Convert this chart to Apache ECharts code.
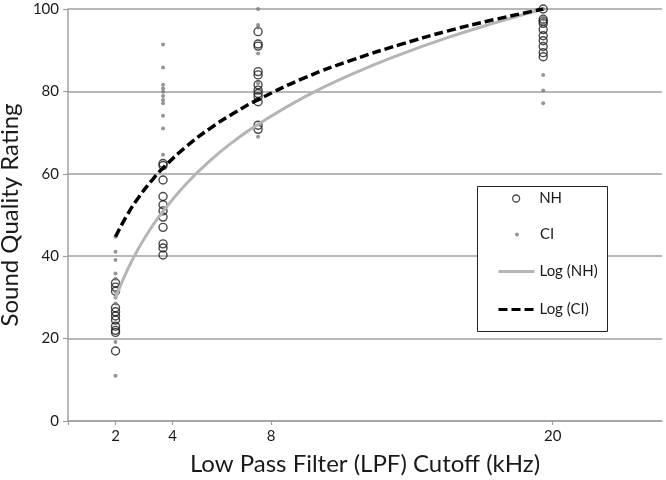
<!DOCTYPE html>
<html><head><meta charset="utf-8">
<script src="https://cdn.jsdelivr.net/npm/echarts@6/dist/echarts.min.js"></script>
<style>html,body{margin:0;padding:0;background:#fff}#c{width:666px;height:480px}</style>
</head><body><div id="c"></div>
<script>
// LPF cutoff levels (kHz)
const xLevels = [2, 4, 8, 20];
const tickLabels = ['2', '4', '8', '20'];
const tickValues = [2, 4.4, 8.55, 20.4];

// NH listeners ratings per level
const nh2 = [33.5, 32.5, 31.5, 27.5, 26.5, 25.5, 24.5, 23, 22, 21.5, 17];
const nh4 = [62.5, 62, 58.5, 54.5, 52.5, 51, 49.5, 47, 43, 42, 40.3];
const nh8 = [94.5, 91.5, 91, 84.8, 84, 81.6, 80.3, 79.5, 78.7, 77.5, 71.8, 70.8];
const nh20 = [100, 97.5, 97, 96.5, 95, 93.5, 92.3, 90.9, 89.4, 88.4];

// CI listeners ratings per level
const ci2 = [44.7, 41.1, 39.1, 35.8, 34.5, 31.4, 30, 28.5, 19.2, 11];
const ci4 = [91.4, 85.8, 81.6, 80.7, 79.9, 78.9, 77.9, 77.1, 74.1, 71.0, 64.6];
const ci8 = [100, 96.1, 95.5, 89.2, 82, 69];
const ci20 = [100, 98, 97.5, 96.5, 84.0, 80.2, 77.1];

// trendline values
const curveX = [2, 2.5, 3, 3.5, 4, 5, 6, 7, 8, 10, 12, 14, 16, 18, 20];
const logNH = [29.9, 36.7, 42.2, 46.9, 50.9, 57.7, 63.3, 68.0, 72.0, 78.8, 84.3, 89.0, 93.1, 96.7, 100];
const logCI = [44.7, 50.1, 54.5, 58.2, 61.4, 66.7, 71.1, 74.8, 78.0, 83.4, 87.7, 91.4, 94.7, 97.5, 100];

function pairs(groups) {
  const out = [];
  groups.forEach((g, i) => g.forEach(v => out.push([xLevels[i], v])));
  return out;
}
const nhData = pairs([nh2, nh4, nh8, nh20]);
const ciData = pairs([ci2, ci4, ci8, ci20]);
const nhCurve = curveX.map((x, i) => [x, logNH[i]]);
const ciCurve = curveX.map((x, i) => [x, logCI[i]]);

const FONT = 'Lato';
const AX = '#a0a0a0';
const TXT = '#1a1a1a';
const chart = echarts.init(document.getElementById('c'));
chart.setOption({
  animation: false,
  backgroundColor: '#fff',
  textStyle: { fontFamily: FONT },
  grid: { left: 68, right: 4, top: 9, bottom: 59, containLabel: false, outerBoundsMode: 'none' },
  xAxis: {
    type: 'value', min: 0, max: 25,
    name: 'Low Pass Filter (LPF) Cutoff (kHz)', nameLocation: 'middle', nameGap: 31,
    nameTextStyle: { fontFamily: FONT, fontSize: 24, color: TXT },
    axisLine: { show: true, lineStyle: { color: AX, width: 1.5 } },
    axisTick: { show: true, length: 4, customValues: [0].concat(tickValues), lineStyle: { color: AX, width: 1.2 } },
    axisLabel: {
      customValues: tickValues, margin: 8, fontSize: 15, color: TXT, fontFamily: FONT,
      formatter: v => { const i = tickValues.indexOf(v); return i >= 0 ? tickLabels[i] : ''; }
    },
    splitLine: { show: false }
  },
  yAxis: {
    type: 'value', min: 0, max: 100, interval: 20,
    name: 'Sound Quality Rating', nameLocation: 'middle', nameGap: 35,
    nameTextStyle: { fontFamily: FONT, fontSize: 24, color: TXT },
    axisLine: { show: true, lineStyle: { color: AX, width: 1.5 } },
    axisTick: { show: true, length: 5, lineStyle: { color: AX, width: 1.2 } },
    axisLabel: { margin: 9, fontSize: 15, color: TXT, fontFamily: FONT },
    splitLine: { show: true, lineStyle: { color: AX, width: 1.5 } }
  },
  graphic: {
    elements: [{
      type: 'rect', z: 100, left: 477, top: 186,
      shape: { width: 130, height: 145 },
      style: { fill: '#fff', stroke: '#222', lineWidth: 1 }
    }]
  },
  legend: [
    { data: ['NH'], left: 512, top: 191, z: 110, padding: 0, itemWidth: 36, itemHeight: 7, itemGap: 0,
      textStyle: { fontSize: 15, color: TXT, fontFamily: FONT },
      itemStyle: { borderWidth: 1.3 } },
    { data: ['CI'], left: 515, top: 227, z: 110, padding: 0, itemWidth: 36, itemHeight: 4, itemGap: 0,
      textStyle: { fontSize: 15, color: TXT, fontFamily: FONT } },
    { data: ['Log (NH)', 'Log (CI)'], orient: 'vertical', left: 497, top: 264, z: 110, padding: 0,
      itemWidth: 36, itemHeight: 14, itemGap: 23,
      textStyle: { fontSize: 15, color: TXT, fontFamily: FONT },
      itemStyle: { opacity: 0, color: 'rgba(0,0,0,0)', borderWidth: 0 },
      lineStyle: { width: 3 } }
  ],
  series: [
    { name: 'NH', type: 'scatter', data: nhData, symbol: 'circle', symbolSize: 8,
      itemStyle: { color: 'rgba(255,255,255,0)', borderColor: TXT, borderWidth: 1.4 }, z: 2 },
    { name: 'CI', type: 'scatter', data: ciData, symbol: 'circle', symbolSize: 4,
      itemStyle: { color: '#7a7a7a' }, z: 3 },
    { name: 'Log (NH)', type: 'line', data: nhCurve, smooth: true, symbol: 'none', showSymbol: false,
      lineStyle: { color: '#b5b5b5', width: 3 }, itemStyle: { color: '#b5b5b5' }, z: 4 },
    { name: 'Log (CI)', type: 'line', data: ciCurve, smooth: true, symbol: 'none', showSymbol: false,
      lineStyle: { color: '#000', width: 3.5, type: [9, 4] }, itemStyle: { color: '#000' }, z: 5 }
  ]
});
</script></body></html>
